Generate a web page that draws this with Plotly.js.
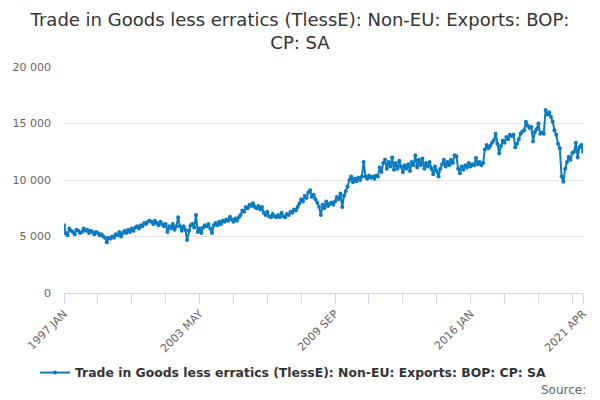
<!DOCTYPE html>
<html>
<head>
<meta charset="utf-8">
<script src="https://cdn.plot.ly/plotly-3.0.1.min.js"></script>
<style>html,body{margin:0;padding:0;background:#fff;}#chart{width:600px;height:400px;}</style>
</head>
<body>
<div id="chart"></div>
<script>
const startYear = 1997;
const monthNames = ["JAN","FEB","MAR","APR","MAY","JUN","JUL","AUG","SEP","OCT","NOV","DEC"];
const seriesName = "Trade in Goods less erratics (TlessE): Non-EU: Exports: BOP: CP: SA";
const values = [
  6000, 5300, 5100, 5700, 5500, 5400, 5200, 5600, 5500, 5300, 5400, 5700,
  5500, 5600, 5300, 5500, 5400, 5200, 5400, 5300, 5100, 5200, 5000, 4900,
  4500, 4900, 4800, 5000, 4900, 5200, 5100, 5400, 5000, 5300, 5500, 5300,
  5600, 5400, 5700, 5500, 5800, 5900, 5700, 6000, 5900, 6200, 6100, 6300,
  6400, 6300, 6100, 6400, 6200, 6000, 6300, 6100, 5900, 6100, 5400, 5900,
  5700, 6100, 5600, 5900, 6700, 5900, 5500, 5900, 5600, 4700, 5500, 6000,
  6100, 5800, 6900, 5400, 5700, 5300, 5800, 6000, 5900, 6100, 5700, 5300,
  6000, 6200, 6000, 6300, 6100, 6400, 6300, 6500, 6400, 6750, 6500, 6300,
  6600, 6400, 6700, 6900, 7300, 7200, 7600, 7500, 7800, 7700, 7950, 7600,
  7500, 7700, 7400, 7600, 7100, 6900, 7200, 6800, 6700, 7000, 6800, 6700,
  6900, 6700, 7100, 6800, 6700, 7000, 6900, 7200, 7100, 7400, 7300, 7600,
  7900, 8300, 8100, 8600, 8400, 8900, 9100, 8500, 8700, 8300, 8000, 7600,
  6900, 7800, 7500, 8100, 7700, 7900, 8000, 7800, 8100, 8500, 8300, 8800,
  7600, 8600, 9000, 9400, 10000, 10300, 9800, 10100, 9900, 10200, 10000, 10300,
  11600, 10300, 10100, 10400, 10200, 10300, 10100, 10400, 10300, 11100, 10700, 11500,
  11800, 11000, 11600, 11200, 12000, 10900, 11500, 11000, 11700, 11200, 10700, 11300,
  11000, 11400, 10800, 11600, 11300, 12200, 11100, 11800, 11300, 11900, 11000, 11500,
  11200, 11600, 11000, 10500, 11200, 10800, 10300, 11000, 11400, 11800, 11200, 11600,
  11300, 11800, 11500, 12200, 12100, 11000, 10600, 11200, 10900, 11300, 11100, 11500,
  11200, 11400, 11300, 11950, 11400, 11600, 11300, 11500, 12700, 13100, 12800, 13000,
  13300, 13500, 14100, 13200, 12350, 13000, 13500, 13300, 13800, 13600, 14000, 13900,
  14000, 12900, 13200, 13600, 14100, 14300, 14400, 15150, 14800, 14600, 14700, 13400,
  14250, 14500, 15000, 14100, 14200, 14100, 16200, 15800, 16000, 15600, 15150, 14400,
  14000, 13200, 12800, 10300, 9850, 11000, 11600, 12050, 11800, 12400, 12500, 13300,
  12000, 12900, 13100, 12500
];
const labelledTicks = ["1997 JAN", "2003 MAY", "2009 SEP", "2016 JAN", "2021 APR"];
const yTicks = [0, 5000, 10000, 15000, 20000];

const categories = values.map((v, i) =>
  (startYear + Math.floor(i / 12)) + " " + monthNames[i % 12]);

const tickvals = [];
for (let i = 0; i < categories.length; i += 19) tickvals.push(categories[i]);
const last = categories[categories.length - 1];
if (tickvals[tickvals.length - 1] !== last) tickvals.push(last);
const ticktext = tickvals.map(c => labelledTicks.includes(c) ? c : "");

const font = "DejaVu Sans, Verdana, sans-serif";
const blue = "#0b7bc1";

const trace = {
  type: "scatter",
  mode: "lines+markers",
  x: categories,
  y: values,
  name: seriesName,
  line: {color: blue, width: 2},
  marker: {color: blue, size: 4},
  hoverinfo: "x+y"
};

const layout = {
  width: 600,
  height: 400,
  margin: {l: 64, r: 17, t: 67, b: 107},
  paper_bgcolor: "#fff",
  plot_bgcolor: "#fff",
  separators: ". ",
  font: {family: font, color: "#666", size: 11},
  title: {
    text: "Trade in Goods less erratics (TlessE): Non-EU: Exports: BOP:<br>CP: SA",
    xref: "paper",
    x: (300 - 64) / 519, xanchor: "center",
    yref: "container",
    y: 1 - 26 / 400, yanchor: "middle",
    font: {family: font, size: 18, color: "#333"}
  },
  xaxis: {
    type: "category",
    range: [0, categories.length - 1],
    tickmode: "array",
    tickvals: tickvals,
    ticktext: ticktext,
    tickangle: -45,
    ticks: "outside",
    ticklen: 9,
    tickcolor: "#ccd6eb",
    showline: true,
    linecolor: "#ccd6eb",
    linewidth: 1,
    showgrid: false,
    zeroline: false,
    tickfont: {family: font, size: 11, color: "#666"}
  },
  yaxis: {
    range: [0, 20000],
    tickmode: "array",
    tickvals: yTicks,
    tickformat: ",",
    separatethousands: true,
    showgrid: true,
    gridcolor: "#e6e6e6",
    showline: false,
    zeroline: false,
    ticks: "",
    ticklabelstandoff: 12,
    tickfont: {family: font, size: 11, color: "#666"}
  },
  showlegend: true,
  legend: {
    orientation: "h",
    x: (293 - 64) / 519, xanchor: "center",
    y: -0.354, yanchor: "middle",
    font: {family: font, size: 12.4, color: "#333", weight: "bold"},
    bgcolor: "rgba(0,0,0,0)"
  },
  annotations: [{
    text: "Source:",
    xref: "paper", yref: "paper",
    x: 1.0096, y: -0.429,
    xanchor: "right", yanchor: "middle",
    showarrow: false,
    font: {family: font, size: 12, color: "#666"}
  }]
};

Plotly.newPlot("chart", [trace], layout, {displayModeBar: false, staticPlot: true});
</script>
</body>
</html>
